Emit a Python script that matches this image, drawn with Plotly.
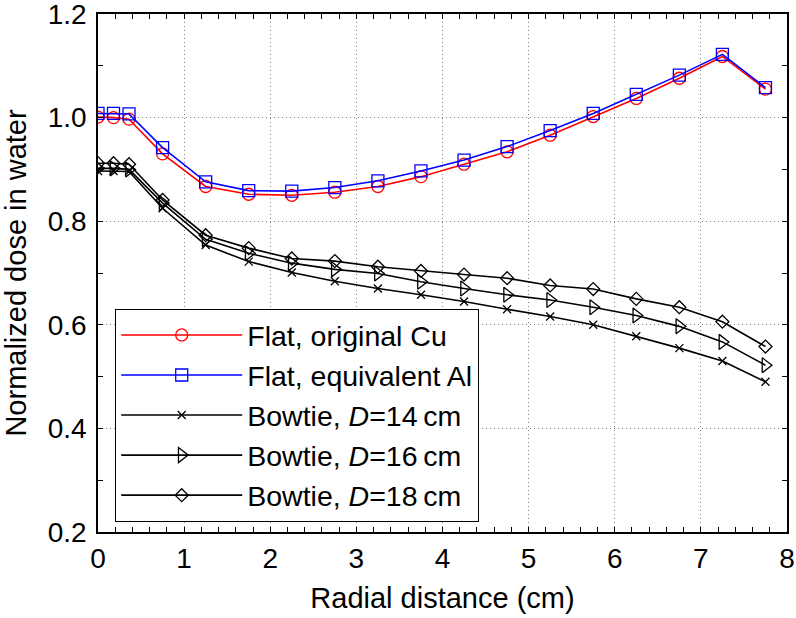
import plotly.graph_objects as go

radial_cm = [0, 0.18, 0.36, 0.75, 1.25, 1.75, 2.25, 2.75, 3.25, 3.75, 4.25, 4.75,
             5.25, 5.75, 6.25, 6.75, 7.25, 7.75]

flat_cu = [1.001, 1.000, 0.997, 0.930, 0.867, 0.852, 0.850, 0.856, 0.867, 0.886,
           0.910, 0.934, 0.966, 1.002, 1.037, 1.076, 1.118, 1.055]
flat_al = [1.008, 1.008, 1.007, 0.942, 0.876, 0.859, 0.858, 0.865, 0.878, 0.897,
           0.918, 0.944, 0.975, 1.008, 1.045, 1.082, 1.122, 1.058]
bowtie_14 = [0.897, 0.897, 0.896, 0.825, 0.754, 0.722, 0.701, 0.684, 0.670, 0.658,
             0.645, 0.630, 0.616, 0.600, 0.578, 0.555, 0.530, 0.490]
bowtie_16 = [0.902, 0.902, 0.900, 0.835, 0.765, 0.738, 0.719, 0.707, 0.699, 0.683,
             0.670, 0.658, 0.648, 0.634, 0.618, 0.597, 0.567, 0.522]
bowtie_18 = [0.912, 0.912, 0.910, 0.841, 0.773, 0.748, 0.728, 0.723, 0.712, 0.704,
             0.697, 0.690, 0.676, 0.669, 0.650, 0.634, 0.606, 0.558]

series_names = [
    "Flat, original Cu",
    "Flat, equivalent Al",
    "Bowtie, <i>D</i>=14\u2009cm",
    "Bowtie, <i>D</i>=16\u2009cm",
    "Bowtie, <i>D</i>=18\u2009cm",
]

x_ticks = [0, 1, 2, 3, 4, 5, 6, 7, 8]
y_ticks = [0.2, 0.4, 0.6, 0.8, 1.0, 1.2]
y_tick_text = ["0.2", "0.4", "0.6", "0.8", "1.0", "1.2"]

FONT = "Liberation Sans, Arial, sans-serif"

fig = go.Figure()

styles = [
    (flat_cu, "#ff0000", "circle-open", 12),
    (flat_al, "#0000ff", "square-open", 12),
    (bowtie_14, "#000000", "x-thin-open", 8),
    (bowtie_16, "#000000", "triangle-right-open", 13),
    (bowtie_18, "#000000", "diamond-open", 10),
]

for name, (vals, color, sym, size) in zip(series_names, styles):
    fig.add_trace(go.Scatter(
        x=radial_cm, y=vals, name=name, mode="lines+markers",
        line=dict(color=color, width=1.6),
        marker=dict(symbol=sym, size=size, color=color,
                    line=dict(color=color, width=1.3)),
    ))

axis_common = dict(
    showline=True, linecolor="black", linewidth=1.5, mirror="allticks",
    ticks="inside", ticklen=5, tickwidth=1, tickcolor="black",
    showgrid=True, gridcolor="#808080", griddash="1px,3px", gridwidth=1,
    zeroline=False, automargin=False, ticklabeloverflow="allow",
    tickfont=dict(family=FONT, size=28, color="black"),
)

fig.update_xaxes(
    range=[0, 8], tickmode="array", tickvals=x_ticks,
    minor=dict(dtick=0.2, tick0=0, ticks="inside", ticklen=5, tickcolor="black", showgrid=False),
    title=dict(text="Radial distance (cm)", font=dict(family=FONT, size=29, color="black"),
               standoff=14),
    ticklabelstandoff=1,
    **axis_common,
)
fig.update_yaxes(
    range=[0.2, 1.2], tickmode="array", tickvals=y_ticks, ticktext=y_tick_text,
    minor=dict(dtick=0.1, tick0=0.2, ticks="inside", ticklen=5, tickcolor="black", showgrid=False),
    title=dict(text="Normalized dose in water", font=dict(family=FONT, size=29, color="black"),
               standoff=32),
    ticklabelstandoff=4,
    **axis_common,
)

fig.update_layout(
    width=796, height=618,
    margin=dict(l=98, r=9, t=14, b=86),
    paper_bgcolor="white", plot_bgcolor="white",
    font=dict(family=FONT, size=28, color="black"),
    legend=dict(
        x=0.0247, y=0.431, xanchor="left", yanchor="top",
        bgcolor="white", bordercolor="black", borderwidth=1.2,
        font=dict(family=FONT, size=28.5, color="black"),
        itemwidth=121, tracegroupgap=0,
    ),
    showlegend=True,
)

fig.write_html("out.html", config={"displayModeBar": False},
               post_script="document.body.style.margin='0';document.body.style.overflow='hidden';")
